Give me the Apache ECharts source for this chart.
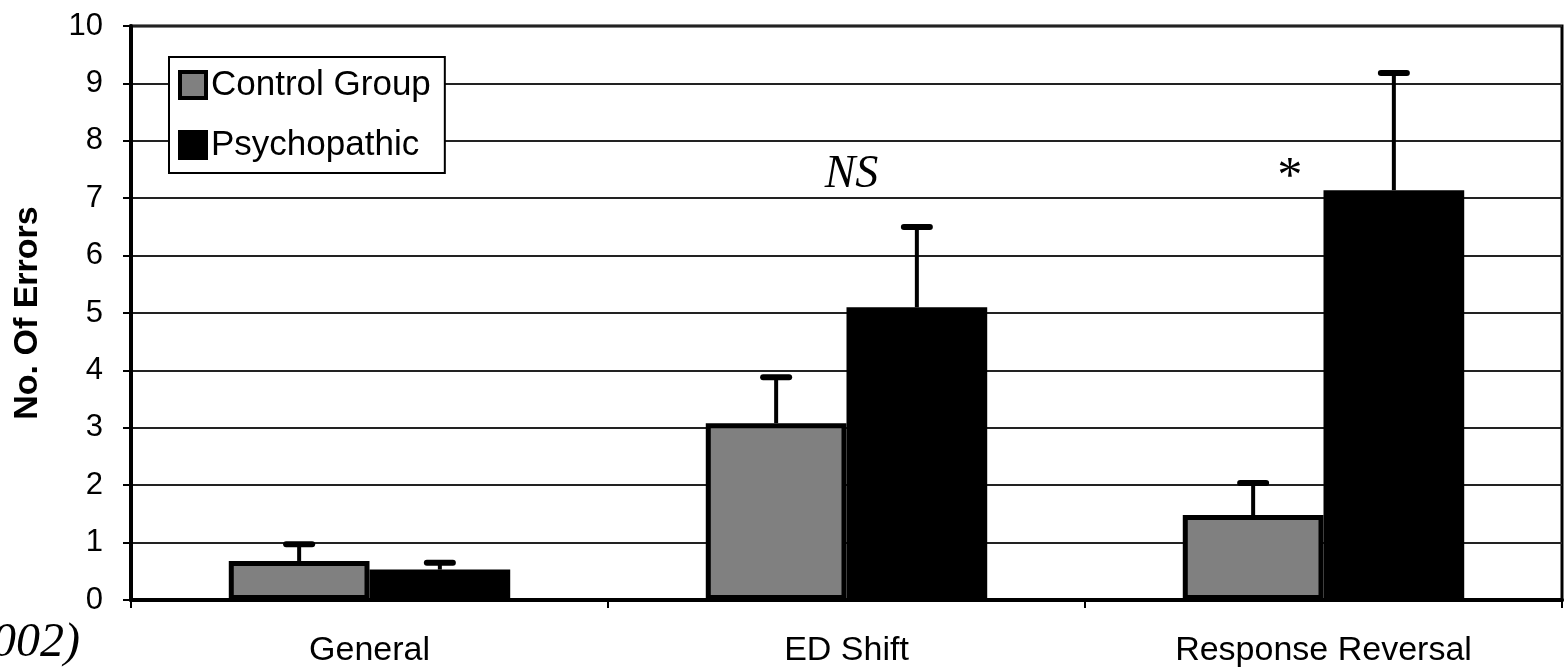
<!DOCTYPE html>
<html>
<head>
<meta charset="utf-8">
<script src="https://cdn.jsdelivr.net/npm/echarts@6/dist/echarts.min.js"></script>
<style>
html,body{margin:0;padding:0;background:#fff;}
#chart{width:1566px;height:668px;}
</style>
</head>
<body>
<div id="chart"></div>
<script>
var categories = ['General', 'ED Shift', 'Response Reversal'];
var seriesNames = ['Control Group', 'Psychopathic'];
var controlMeans = [0.68, 3.08, 1.48];
var controlUpper = [0.97, 3.88, 2.04];
var psychMeans = [0.53, 5.1, 7.14];
var psychUpper = [0.65, 6.5, 9.18];
var yTicks = [0, 1, 2, 3, 4, 5, 6, 7, 8, 9, 10];
var annotations = [
  { text: 'NS', category: 1, value: 7.4 },
  { text: '*', category: 2, value: 7.36 }
];

var CAT_GAP = 0.41;

var chart = echarts.init(document.getElementById('chart'));

function errorSeries(means, upper, side) {
  var data = means.map(function (m, i) { return [i, m, upper[i]]; });
  return {
    type: 'custom',
    z: 5,
    silent: true,
    data: data,
    renderItem: function (params, api) {
      var idx = api.value(0);
      var base = api.coord([idx, api.value(1)]);
      var top = api.coord([idx, api.value(2)]);
      var band = api.size([1, 0])[0];
      var bw = band * (1 - CAT_GAP) / 2;
      var cx = base[0] + side * bw / 2;
      return {
        type: 'group',
        children: [
          { type: 'line', shape: { x1: cx, y1: base[1], x2: cx, y2: top[1] },
            style: { stroke: '#000', lineWidth: 4 } },
          { type: 'line', shape: { x1: cx - 13, y1: top[1], x2: cx + 13, y2: top[1] },
            style: { stroke: '#000', lineWidth: 6, lineCap: 'round' } }
        ]
      };
    }
  };
}

function annotationSeries() {
  return {
    type: 'custom',
    z: 6,
    silent: true,
    data: annotations.map(function (a) { return [a.category, a.value, a.text]; }),
    renderItem: function (params, api) {
      var idx = api.value(0);
      var p = api.coord([idx, api.value(1)]);
      var a = annotations[params.dataIndex];
      var offset = a.text === '*' ? -36 : 5;
      return {
        type: 'text',
        style: {
          x: p[0] + offset, y: p[1],
          text: a.text,
          fill: '#000',
          font: 'italic ' + (a.text === '*' ? 50 : 46) + 'px "Liberation Serif", "DejaVu Serif", serif',
          align: 'center', verticalAlign: 'middle'
        }
      };
    }
  };
}

var sans = '"Liberation Sans", Arial, sans-serif';

var option = {
  backgroundColor: '#fff',
  animation: false,
  grid: {
    left: 131, right: 4, top: 26, bottom: 68,
    outerBoundsMode: 'none',
    containLabel: false,
    show: true, borderColor: '#000', borderWidth: 3, backgroundColor: 'transparent'
  },
  legend: {
    orient: 'vertical',
    left: 169, top: 57,
    padding: [9, 14, 9, 9],
    itemGap: 22,
    itemWidth: 26, itemHeight: 26,
    itemTextGap: 6,
    backgroundColor: '#fff',
    borderColor: '#000', borderWidth: 2,
    icon: 'rect',
    itemStyle: { borderWidth: 4, borderColor: '#000' },
    textStyle: { fontFamily: sans, fontSize: 35, color: '#000', lineHeight: 38 },
    data: seriesNames
  },
  xAxis: {
    type: 'category',
    data: categories,
    axisLine: { show: true, lineStyle: { color: '#000', width: 4 } },
    axisTick: { show: true, length: 8, inside: false, lineStyle: { color: '#000', width: 2 } },
    axisLabel: { margin: 34, fontFamily: sans, fontSize: 34, color: '#000' },
    splitLine: { show: false }
  },
  yAxis: {
    type: 'value',
    min: 0, max: 10, interval: 1,
    name: 'No. Of Errors',
    nameLocation: 'middle',
    nameGap: 86,
    nameTextStyle: { fontFamily: sans, fontSize: 34, fontWeight: 'bold', color: '#000' },
    axisLine: { show: true, lineStyle: { color: '#000', width: 4 } },
    axisTick: { show: true, length: 8, lineStyle: { color: '#000', width: 2 } },
    axisLabel: {
      margin: 28, fontFamily: sans, fontSize: 31, color: '#000',
      formatter: function (v) { return yTicks.indexOf(v) >= 0 ? String(v) : ''; }
    },
    splitLine: { show: true, lineStyle: { color: '#222', width: 2 } }
  },
  series: [
    {
      name: seriesNames[0], type: 'bar', data: controlMeans,
      barGap: '0%', barCategoryGap: (CAT_GAP * 100) + '%',
      itemStyle: { color: '#808080', borderColor: '#000', borderWidth: 5 }
    },
    {
      name: seriesNames[1], type: 'bar', data: psychMeans,
      barGap: '0%', barCategoryGap: (CAT_GAP * 100) + '%',
      itemStyle: { color: '#000', borderColor: '#000', borderWidth: 5 }
    },
    errorSeries(controlMeans, controlUpper, -1),
    errorSeries(psychMeans, psychUpper, 1),
    annotationSeries()
  ],
  graphic: [
    {
      type: 'text', silent: true,
      style: {
        x: -8, y: 643, text: '002)', fill: '#000',
        font: 'italic 48px "Liberation Serif", "DejaVu Serif", serif',
        align: 'left', verticalAlign: 'middle'
      }
    }
  ]
};

chart.setOption(option);
</script>
</body>
</html>
